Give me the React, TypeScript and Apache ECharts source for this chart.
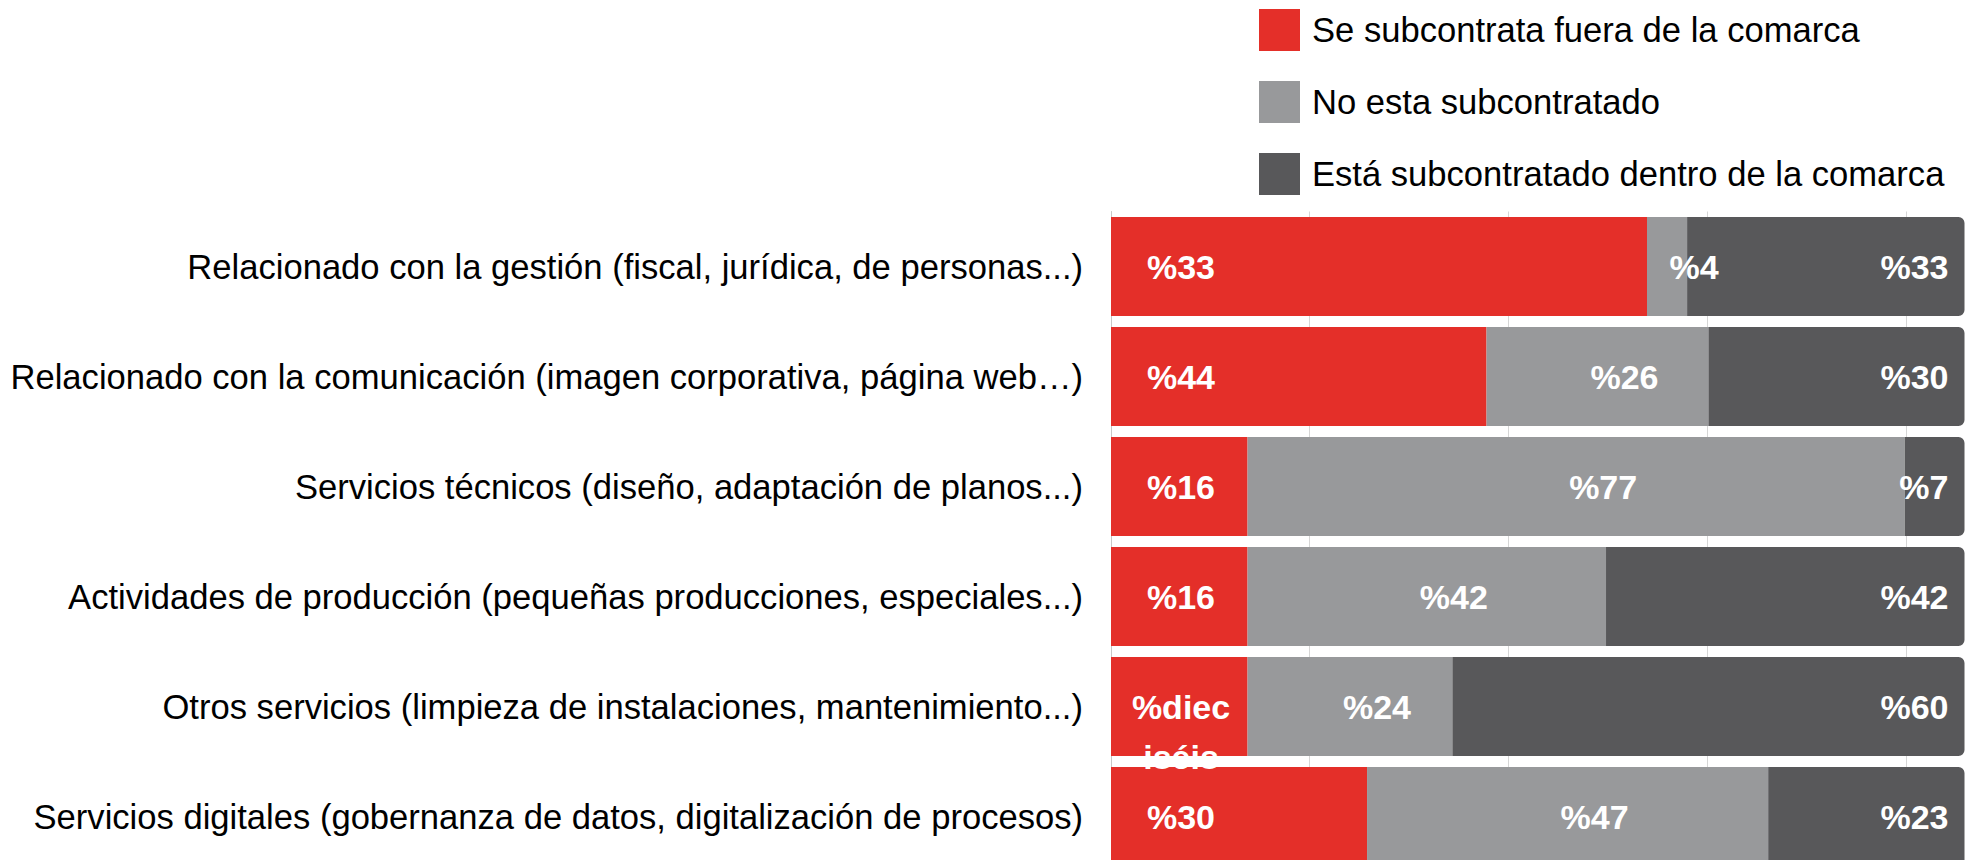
import React, { useEffect, useRef } from "react";
import * as echarts from "echarts";

const categories = [
  "Relacionado con la gestión (fiscal, jurídica, de personas...)",
  "Relacionado con la comunicación (imagen corporativa, página web…)",
  "Servicios técnicos (diseño, adaptación de planos...)",
  "Actividades de producción (pequeñas producciones, especiales...)",
  "Otros servicios (limpieza de instalaciones, mantenimiento...)",
  "Servicios digitales (gobernanza de datos, digitalización de procesos)",
];

const seriesNames = [
  "Se subcontrata fuera de la comarca",
  "No esta subcontratado",
  "Está subcontratado dentro de la comarca",
];

// bar lengths as drawn (percent of each row)
const fueraValues = [62.8, 44, 16, 16, 16, 30];
const noValues = [4.7, 26, 77, 42, 24, 47];
const dentroValues = [32.5, 30, 7, 42, 60, 23];

// labels as printed on the bars
const fueraLabels = ["%33", "%44", "%16", "%16", "%dieciséis", "%30"];
const noLabels = ["%4", "%26", "%77", "%42", "%24", "%47"];
const dentroLabels = ["%33", "%30", "%7", "%42", "%60", "%23"];

const colors = ["#e42f29", "#98999b", "#58585a"];
const FONT = "'Liberation Sans', Arial, sans-serif";

export default function App() {
  const ref = useRef<HTMLDivElement>(null);

  useEffect(() => {
    document.body.style.margin = "0";
    if (!ref.current) return;
    const chart = echarts.init(ref.current, undefined, { renderer: "svg" });

    const valueLabel = {
      show: true,
      color: "#ffffff",
      fontSize: 34,
      fontWeight: "bold" as const,
      fontFamily: FONT,
    };

    chart.setOption({
      animation: false,
      backgroundColor: "#ffffff",
      legend: {
        orient: "vertical",
        left: 1259,
        top: 9,
        padding: 0,
        itemWidth: 41,
        itemHeight: 42,
        itemGap: 30,
        icon: "rect",
        selectedMode: false,
        textStyle: {
          fontSize: 34.6,
          color: "#000000",
          fontFamily: FONT,
          padding: [0, 0, 0, 7],
        },
        data: seriesNames,
      },
      grid: {
        left: 1111,
        right: 3.5,
        top: 211.5,
        height: 660,
        containLabel: false,
      },
      xAxis: {
        type: "value",
        min: 0,
        max: 100,
        interval: 23.28,
        axisLabel: { show: false },
        axisLine: { show: false },
        axisTick: { show: false },
        splitLine: {
          show: true,
          showMinLine: false,
          showMaxLine: false,
          lineStyle: { color: "#d6d6d6", width: 1 },
        },
      },
      yAxis: {
        type: "category",
        inverse: true,
        data: categories,
        axisTick: { show: false },
        axisLine: { show: true, lineStyle: { color: "#c8c8c8", width: 1 } },
        axisLabel: {
          fontSize: 34.6,
          color: "#000000",
          fontFamily: FONT,
          margin: 28,
        },
      },
      series: [
        {
          name: seriesNames[0],
          type: "bar",
          stack: "total",
          barCategoryGap: "10%",
          data: fueraValues,
          itemStyle: { color: colors[0] },
          label: {
            ...valueLabel,
            position: [70, "50%"],
            align: "center",
            verticalAlign: "top",
            offset: [0, -25],
            lineHeight: 50,
            width: 105,
            overflow: "breakAll",
            formatter: (p: any) => fueraLabels[p.dataIndex],
          },
        },
        {
          name: seriesNames[1],
          type: "bar",
          stack: "total",
          barCategoryGap: "10%",
          data: noValues,
          itemStyle: { color: colors[1] },
          label: {
            ...valueLabel,
            position: "inside",
            offset: [27, 0],
            formatter: (p: any) => noLabels[p.dataIndex],
          },
        },
        {
          name: seriesNames[2],
          type: "bar",
          stack: "total",
          barCategoryGap: "10%",
          data: dentroValues,
          itemStyle: { color: colors[2], borderRadius: [0, 6, 6, 0] },
          label: {
            ...valueLabel,
            position: "insideRight",
            distance: 16,
            formatter: (p: any) => dentroLabels[p.dataIndex],
          },
        },
      ],
    });

    return () => {
      chart.dispose();
    };
  }, []);

  return (
    <div style={{ width: 1968, height: 860, overflow: "hidden" }}>
      <div ref={ref} style={{ width: 1968, height: 872 }} />
    </div>
  );
}
